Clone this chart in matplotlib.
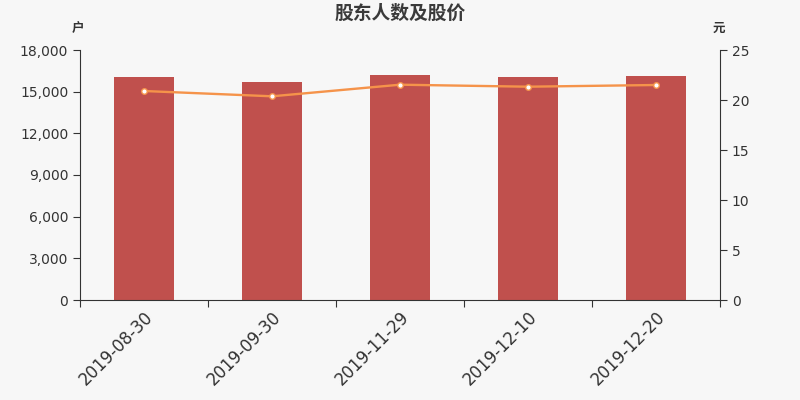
import matplotlib
matplotlib.use('Agg')
import matplotlib.pyplot as plt
from matplotlib.ticker import FuncFormatter

plt.rcParams['font.family'] = ['Noto Sans CJK SC', 'DejaVu Sans']
plt.rcParams['axes.unicode_minus'] = False

dates = ['2019-08-30', '2019-09-30', '2019-11-29', '2019-12-10', '2019-12-20']
holders = [16050, 15670, 16170, 16050, 16120]
price = [20.9, 20.37, 21.53, 21.33, 21.5]

bg = '#f7f7f7'
txt = '#333333'

fig = plt.figure(figsize=(8, 4), dpi=100, facecolor=bg)
ax = fig.add_axes([0.1, 0.25, 0.8, 0.625], facecolor=bg)
x = list(range(len(dates)))
ax.bar(x, holders, width=0.47, color='#c0504d', zorder=2)
ax.set_xlim(-0.5, len(dates) - 0.5)
ax.set_ylim(0, 18000)
ax.set_yticks(range(0, 18001, 3000))
ax.yaxis.set_major_formatter(FuncFormatter(lambda v, p: f'{int(v):,}'))

# category boundaries carry the tick marks, labels sit at bar centres
ax.set_xticks([i - 0.5 for i in range(len(dates) + 1)])
ax.set_xticklabels([])
ax.set_xticks(x, minor=True)
ax.set_xticklabels(dates, minor=True, rotation=45, ha='right',
                   rotation_mode='anchor', fontsize=12, color=txt,
                   family='DejaVu Sans')
ax.tick_params(axis='x', which='minor', length=0, pad=6)
ax.tick_params(axis='x', which='major', length=5, color=txt)
ax.tick_params(axis='y', labelsize=10, colors=txt, length=5)
for lbl in ax.get_yticklabels():
    lbl.set_family('DejaVu Sans')

ax2 = ax.twinx()
ax2.plot(x, price, color='#f5934a', lw=1.7, marker='o', ms=4,
         mfc='white', mec='#f5934a', mew=1, zorder=3)
ax2.set_ylim(0, 25)
ax2.set_yticks(range(0, 26, 5))
ax2.tick_params(axis='y', labelsize=10, colors=txt, length=5)
for lbl in ax2.get_yticklabels():
    lbl.set_family('DejaVu Sans')

for a in (ax, ax2):
    a.spines['top'].set_visible(False)
    for s in ('left', 'right', 'bottom'):
        a.spines[s].set_color(txt)
ax.spines['right'].set_visible(False)
ax2.spines['left'].set_visible(False)
ax2.spines['bottom'].set_visible(False)

fig.text(0.5, 0.967, '股东人数及股价', ha='center', va='center',
         fontsize=13.5, fontweight='bold', color='#3a3a3a')
fig.text(0.098, 0.928, '户', ha='center', va='center', fontsize=9,
         fontweight='bold', color=txt)
fig.text(0.899, 0.928, '元', ha='center', va='center', fontsize=9,
         fontweight='bold', color=txt)

fig.savefig('out.png', dpi=100, facecolor=bg)
